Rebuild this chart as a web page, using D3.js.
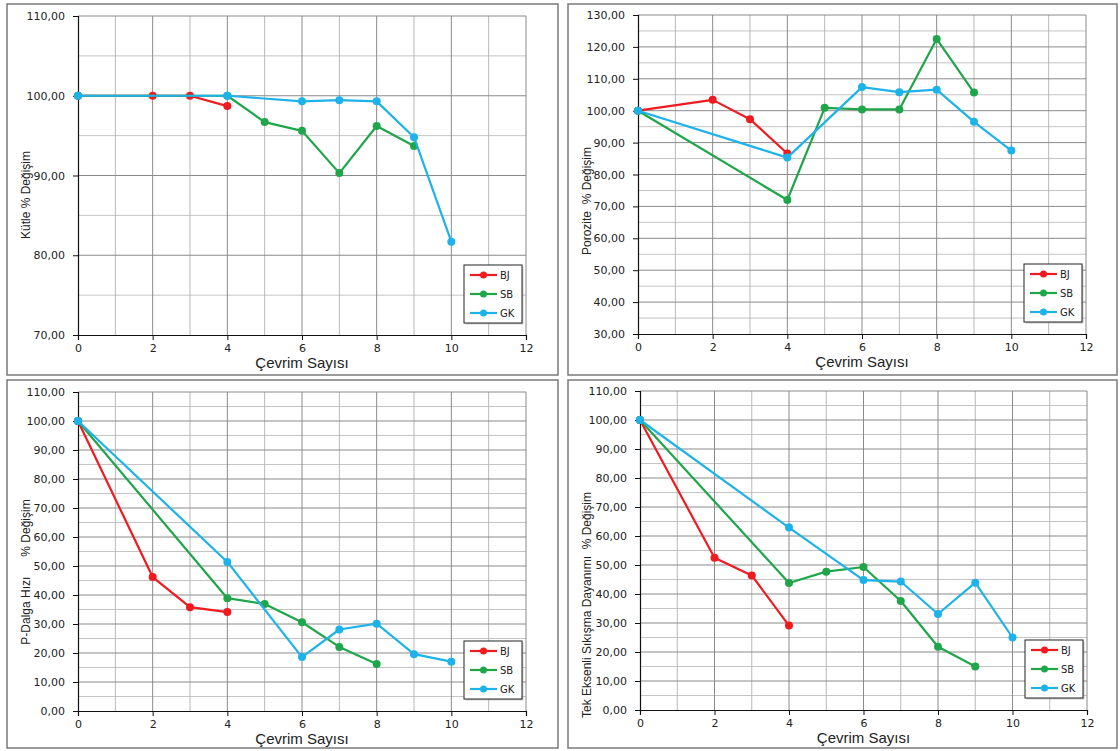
<!DOCTYPE html>
<html><head><meta charset="utf-8">
<script src="https://cdn.jsdelivr.net/npm/d3@7/dist/d3.min.js"></script>
<style>body{margin:0;background:#fff}svg{display:block}</style>
</head><body>
<svg id="c" width="1120" height="751"></svg>
<script>
// ---- data ----
const xTickValues=[0,2,4,6,8,10,12];
const seriesNames=["BJ","SB","GK"];
const seriesColors=["#f01a1f","#1fa64a","#1db3ea"];
const xTitle="Çevrim Sayısı";

// Panel 1: Kütle
const kutleBJx=[0,2,3,4];            const kutleBJ=[100,100,100,98.7];
const kutleSBx=[0,4,5,6,7,8,9];      const kutleSB=[100,100,96.7,95.6,90.3,96.2,93.7];
const kutleGKx=[0,4,6,7,8,9,10];     const kutleGK=[100,100,99.3,99.45,99.3,94.8,81.7];
const kutleTicks=[70,80,90,100,110];

// Panel 2: Porozite
const porBJx=[0,2,3,4];              const porBJ=[100,103.4,97.3,86.6];
const porSBx=[0,4,5,6,7,8,9];        const porSB=[100,72.0,100.9,100.4,100.4,122.5,105.7];
const porGKx=[0,4,6,7,8,9,10];       const porGK=[100,85.3,107.4,105.8,106.6,96.5,87.5];
const porTicks=[30,40,50,60,70,80,90,100,110,120,130];

// Panel 3: P-Dalga Hızı
const pBJx=[0,2,3,4];                const pBJ=[100,46.2,35.8,34.1];
const pSBx=[0,4,5,6,7,8];            const pSB=[100,38.9,36.9,30.6,22.1,16.2];
const pGKx=[0,4,6,7,8,9,10];         const pGK=[100,51.4,18.6,28.1,30.1,19.6,17.0];
const pTicks=[0,10,20,30,40,50,60,70,80,90,100,110];

// Panel 4: Tek Eksenli Sıkışma Dayanımı
const ucsBJx=[0,2,3,4];              const ucsBJ=[100,52.5,46.4,29.1];
const ucsSBx=[0,4,5,6,7,8,9];        const ucsSB=[100,43.8,47.7,49.3,37.6,21.8,15.0];
const ucsGKx=[0,4,6,7,8,9,10];       const ucsGK=[100,62.9,44.8,44.3,33.1,43.9,25.0];
const ucsTicks=[0,10,20,30,40,50,60,70,80,90,100,110];

const zip=(xs,ys)=>xs.map((x,i)=>({x:x,y:ys[i]}));

const panels=[
 {box:[7,4,558,375],px:[78,526],py:[16,335],ticks:kutleTicks,title:"Kütle % Değişim",titleY:195,
  series:[zip(kutleBJx,kutleBJ),zip(kutleSBx,kutleSB),zip(kutleGKx,kutleGK)]},
 {box:[568,4,1117,375],px:[638,1086],py:[15,334],ticks:porTicks,title:"Porozite  % Değişim",titleY:201,
  series:[zip(porBJx,porBJ),zip(porSBx,porSB),zip(porGKx,porGK)]},
 {box:[7,380,558,748],px:[78,526],py:[392,711],ticks:pTicks,title:"P-Dalga Hızı      % Değişim",titleY:572,
  series:[zip(pBJx,pBJ),zip(pSBx,pSB),zip(pGKx,pGK)]},
 {box:[568,380,1117,748],px:[640,1087],py:[391,710],ticks:ucsTicks,title:"Tek Eksenli Sıkışma Dayanımı  % Değişim",titleY:605,
  series:[zip(ucsBJx,ucsBJ),zip(ucsSBx,ucsSB),zip(ucsGKx,ucsGK)]}
];

const svg=d3.select("#c");
svg.append("rect").attr("width",1120).attr("height",751).attr("fill","#fff");
const fmt=v=>d3.format(".2f")(v).replace(".",",");

panels.forEach(p=>{
  const g=svg.append("g");
  const [bx0,by0,bx1,by1]=p.box;
  g.append("rect").attr("x",bx0).attr("y",by0).attr("width",bx1-bx0).attr("height",by1-by0)
   .attr("fill","#fff").attr("stroke","#7a7a7a").attr("stroke-width",1.5);
  const x=d3.scaleLinear().domain([0,12]).range(p.px);
  const ymin=p.ticks[0], ymax=p.ticks[p.ticks.length-1];
  const y=d3.scaleLinear().domain([ymin,ymax]).range([p.py[1],p.py[0]]);
  // minor horizontal
  const minorY=d3.range(ymin+5,ymax,10);
  g.selectAll(".mh").data(minorY).join("line")
   .attr("x1",p.px[0]).attr("x2",p.px[1]).attr("y1",d=>y(d)).attr("y2",d=>y(d))
   .attr("stroke","#c4c4c4").attr("stroke-width",1);
  // minor vertical (odd)
  const oddX=d3.range(1,12,2);
  g.selectAll(".mv").data(oddX).join("line")
   .attr("x1",d=>x(d)).attr("x2",d=>x(d)).attr("y1",p.py[0]).attr("y2",p.py[1])
   .attr("stroke","#b8b8b8").attr("stroke-width",1);
  // major horizontal
  g.selectAll(".Mh").data(p.ticks.slice(1)).join("line")
   .attr("x1",p.px[0]).attr("x2",p.px[1]).attr("y1",d=>y(d)).attr("y2",d=>y(d))
   .attr("stroke","#8a8a8a").attr("stroke-width",1);
  // major vertical (even)
  g.selectAll(".Mv").data(xTickValues.slice(1)).join("line")
   .attr("x1",d=>x(d)).attr("x2",d=>x(d)).attr("y1",p.py[0]).attr("y2",p.py[1])
   .attr("stroke","#8a8a8a").attr("stroke-width",1);
  // axes
  const ax=g.append("g").attr("transform",`translate(0,${p.py[1]})`)
   .call(d3.axisBottom(x).tickValues(xTickValues).tickSize(5).tickPadding(4).tickFormat(d3.format("d")));
  const ay=g.append("g").attr("transform",`translate(${p.px[0]},0)`)
   .call(d3.axisLeft(y).tickValues(p.ticks).tickSize(5).tickPadding(8).tickFormat(fmt));
  [ax,ay].forEach(a=>{
    a.select(".domain").attr("stroke","#111").attr("stroke-width",1.2);
    a.selectAll(".tick line").attr("stroke","#111");
    a.selectAll("text").attr("font-family","DejaVu Sans, Verdana, sans-serif").attr("font-size",11).attr("fill","#222");
  });
  // titles
  g.append("text").attr("x",(p.px[0]+p.px[1])/2).attr("y",p.py[1]+33)
   .attr("text-anchor","middle").attr("font-family","Liberation Sans, Arial, sans-serif")
   .attr("font-size",15).attr("fill","#222").text(xTitle);
  g.append("text").attr("transform",`translate(${bx0+19},${p.titleY}) rotate(-90)`)
   .attr("text-anchor","middle").attr("dy","0.35em")
   .attr("font-family","Liberation Sans Narrow, Arial Narrow, Liberation Sans, sans-serif")
   .attr("font-size",12).attr("fill","#222").style("white-space","pre").attr("xml:space","preserve").text(p.title);
  // series
  const line=d3.line().x(d=>x(d.x)).y(d=>y(d.y));
  p.series.forEach((s,i)=>{
    g.append("path").datum(s).attr("d",line).attr("fill","none")
     .attr("stroke",seriesColors[i]).attr("stroke-width",2.2).attr("stroke-linejoin","round");
    g.selectAll(null).data(s).join("circle").attr("cx",d=>x(d.x)).attr("cy",d=>y(d.y))
     .attr("r",4).attr("fill",seriesColors[i]);
  });
  // legend
  const lx=p.px[1]-4-58, ly=p.py[1]-12-58;
  const lg=g.append("g").attr("transform",`translate(${lx},${ly})`);
  lg.append("rect").attr("x",1.5).attr("y",1.5).attr("width",58).attr("height",58).attr("fill","#999").attr("opacity",0.5);
  lg.append("rect").attr("width",58).attr("height",58).attr("fill","#fff").attr("stroke","#222").attr("stroke-width",1);
  seriesNames.forEach((n,i)=>{
    const yy=10+i*19;
    lg.append("line").attr("x1",6).attr("x2",33).attr("y1",yy).attr("y2",yy)
      .attr("stroke",seriesColors[i]).attr("stroke-width",2.2);
    lg.append("circle").attr("cx",19.5).attr("cy",yy).attr("r",3.5).attr("fill",seriesColors[i]);
    lg.append("text").attr("x",36).attr("y",yy).attr("dy","0.35em")
      .attr("font-family","DejaVu Sans, Verdana, sans-serif").attr("font-size",10).attr("fill","#222").text(n);
  });
});
</script>
</body></html>
